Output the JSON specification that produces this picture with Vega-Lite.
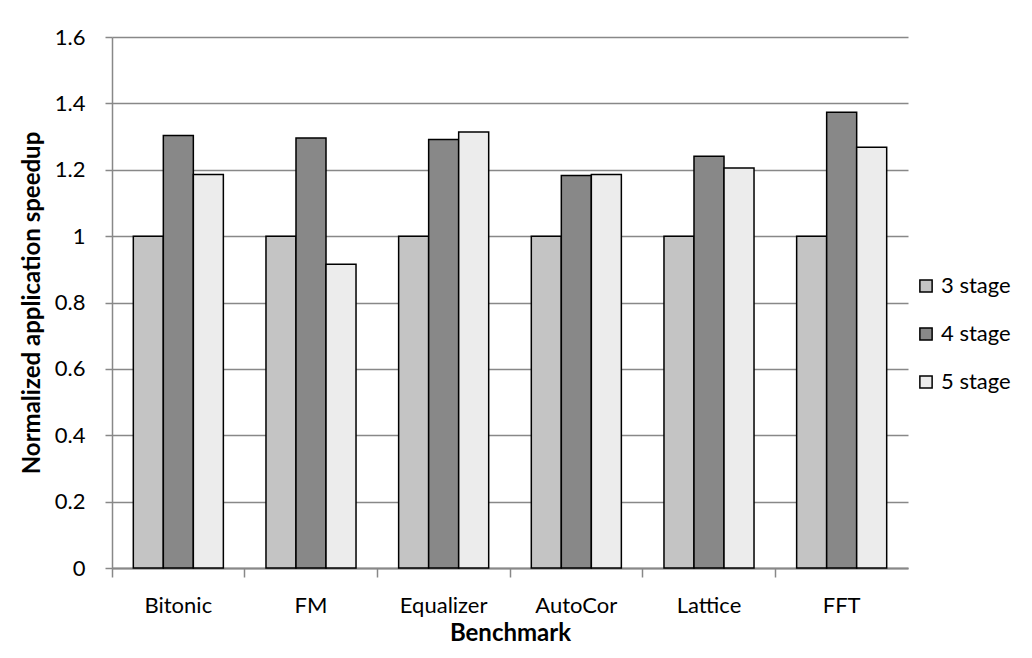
{
  "$schema": "https://vega.github.io/schema/vega-lite/v6.json",
  "autosize": {"type": "none"},
  "padding": {"left": 112, "top": 37, "right": 124, "bottom": 90},
  "width": 796,
  "height": 531,
  "background": "white",
  "config": {
    "font": "Lato",
    "view": {"stroke": null},
    "axis": {"labelFont": "Lato", "titleFont": "Lato", "labelColor": "#000", "titleColor": "#000"}
  },
  "data": {
    "values": [
      {"benchmark": "Bitonic", "config": "3 stage", "speedup": 1.0},
      {"benchmark": "Bitonic", "config": "4 stage", "speedup": 1.303},
      {"benchmark": "Bitonic", "config": "5 stage", "speedup": 1.186},
      {"benchmark": "FM", "config": "3 stage", "speedup": 1.0},
      {"benchmark": "FM", "config": "4 stage", "speedup": 1.296},
      {"benchmark": "FM", "config": "5 stage", "speedup": 0.915},
      {"benchmark": "Equalizer", "config": "3 stage", "speedup": 1.0},
      {"benchmark": "Equalizer", "config": "4 stage", "speedup": 1.291},
      {"benchmark": "Equalizer", "config": "5 stage", "speedup": 1.314},
      {"benchmark": "AutoCor", "config": "3 stage", "speedup": 1.0},
      {"benchmark": "AutoCor", "config": "4 stage", "speedup": 1.183},
      {"benchmark": "AutoCor", "config": "5 stage", "speedup": 1.186},
      {"benchmark": "Lattice", "config": "3 stage", "speedup": 1.0},
      {"benchmark": "Lattice", "config": "4 stage", "speedup": 1.241},
      {"benchmark": "Lattice", "config": "5 stage", "speedup": 1.205},
      {"benchmark": "FFT", "config": "3 stage", "speedup": 1.0},
      {"benchmark": "FFT", "config": "4 stage", "speedup": 1.373},
      {"benchmark": "FFT", "config": "5 stage", "speedup": 1.268}
    ]
  },
  "mark": {"type": "bar", "stroke": "#000", "strokeWidth": 1.5},
  "encoding": {
    "x": {
      "field": "benchmark",
      "type": "nominal",
      "sort": ["Bitonic", "FM", "Equalizer", "AutoCor", "Lattice", "FFT"],
      "scale": {"paddingInner": 0, "paddingOuter": 0},
      "axis": {
        "title": "Benchmark",
        "titleFontSize": 24,
        "titleFontWeight": "bold",
        "titlePadding": 5,
        "labelFontSize": 22,
        "labelAngle": 0,
        "labelPadding": 18,
        "bandPosition": 0,
        "tickSize": 9,
        "tickColor": "#888",
        "tickWidth": 1.5,
        "domainColor": "#888",
        "domainWidth": 2,
        "grid": false
      }
    },
    "xOffset": {
      "field": "config",
      "type": "nominal",
      "scale": {"paddingInner": 0, "paddingOuter": 0.71}
    },
    "y": {
      "field": "speedup",
      "type": "quantitative",
      "scale": {"domain": [0, 1.6], "nice": false},
      "axis": {
        "title": "Normalized application speedup",
        "titleFontSize": 24,
        "titleFontWeight": "bold",
        "titlePadding": 10,
        "values": [0, 0.2, 0.4, 0.6, 0.8, 1, 1.2, 1.4, 1.6],
        "format": "~g",
        "labelFontSize": 22,
        "labelPadding": 20,
        "tickSize": 7,
        "tickColor": "#888",
        "tickWidth": 1.5,
        "domainColor": "#888",
        "domainWidth": 1.5,
        "gridColor": "#888",
        "gridWidth": 1.5
      }
    },
    "fill": {
      "field": "config",
      "type": "nominal",
      "scale": {"domain": ["3 stage", "4 stage", "5 stage"], "range": ["#c4c4c4", "#888888", "#ececec"]},
      "legend": {
        "title": null,
        "orient": "none",
        "legendX": 803,
        "legendY": 238,
        "symbolType": "square",
        "symbolSize": 150,
        "symbolStrokeColor": "#000",
        "symbolStrokeWidth": 1.5,
        "labelFontSize": 22,
        "labelFont": "Lato",
        "labelColor": "#000",
        "rowPadding": 26,
        "labelOffset": 4
      }
    }
  }
}
